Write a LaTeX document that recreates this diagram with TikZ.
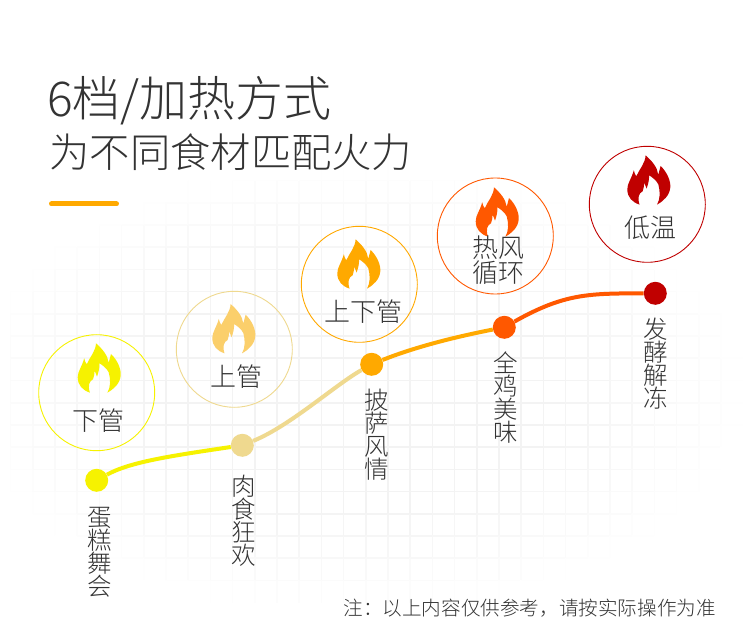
\documentclass[tikz,border=0pt]{standalone}
\usepackage{fontspec}
\newfontfamily\cjk{Noto Sans CJK SC Light}
\definecolor{cYel}{HTML}{F6F200}
\definecolor{cTan}{HTML}{EFD98F}
\definecolor{cTanF}{HTML}{FBCF6B}
\definecolor{cOra}{HTML}{FFA900}
\definecolor{cRed}{HTML}{FF5800}
\definecolor{cDark}{HTML}{C00000}
\definecolor{cTxt}{HTML}{333333}
\tikzset{
  ring/.style={circle,draw=#1,line width=0.9pt,minimum size=116pt,inner sep=0pt},
  dot/.style={circle,fill=#1,minimum size=23pt,inner sep=0pt},
  link/.style={draw=#1,line width=4pt},
  lab/.style={align=center,inner sep=0pt,text=cTxt,font=\cjk\fontsize{24.5}{23}\selectfont},
  lab1/.style={align=center,inner sep=0pt,text=cTxt,font=\cjk\fontsize{26}{25}\selectfont},
  flame/.pic={
    \fill[pic actions] (18.3,0) .. controls (25,6) and (30,12) .. (31,19.5) -- (33.3,10.7)
      .. controls (40,17) and (43.5,26) .. (43,32) .. controls (42.5,40) and (36,46) .. (29.7,49.3)
      .. controls (33,44) and (33,36) .. (31,29) .. controls (29,25) and (25,22) .. (21.8,20)
      .. controls (22,25) and (20.5,30) .. (19.3,33.3) -- (16.9,27.3)
      .. controls (16.7,31) and (16.2,34) .. (15.3,36) .. controls (11.5,38) and (10,42) .. (12.2,49.3)
      .. controls (5,47) and (0,42) .. (0,34) .. controls (0,28) and (4,24) .. (6.5,15)
      .. controls (7,17.5) and (8,19.5) .. (9,21) .. controls (12,14) and (18,8) .. (18.3,0) -- cycle;
  }
}
\begin{document}
\begin{tikzpicture}[x=1pt,y=-1pt]
\useasboundingbox (0,0) rectangle (750,628);
\fill[white] (0,0) rectangle (750,628);
% faint background grid, fading outward
\foreach \i in {-1,...,32}{
  \foreach \j in {-6,...,13}{
    \pgfmathsetmacro{\gx}{32.7+22.2*\i}
    \pgfmathsetmacro{\gy}{291.7+22.2*\j}
    \pgfmathsetmacro{\vp}{max(0,min(1,1.35*(1-((\gx-355)/390)^2-((\gy+11.1-390)/225)^2)))*4.6}
    \pgfmathsetmacro{\hp}{max(0,min(1,1.35*(1-((\gx+11.1-355)/390)^2-((\gy-390)/225)^2)))*4.6}
    \ifdim\vp pt>0.1pt \draw[line width=1.6pt,color=black!\vp!white] (\gx,\gy) -- (\gx,\gy+22.2); \fi
    \ifdim\hp pt>0.1pt \draw[line width=1.6pt,color=black!\hp!white] (\gx,\gy) -- (\gx+22.2,\gy); \fi
  }
}
% heading
\node[anchor=west,inner sep=0pt,text=cTxt,font=\cjk\fontsize{48}{48}\selectfont] (title) at (47,101) {6档/加热方式};
\node[anchor=west,inner sep=0pt,text=cTxt,font=\cjk\fontsize{40.3}{40}\selectfont] (subtitle) at (49.3,152) {为不同食材匹配火力};
\draw[cOra,line width=5pt,line cap=round] (51.5,204) -- (116.5,204);
% rings
\node[ring=cYel] (r1) at (96.7,392.7) {};
\node[ring=cTan] (r2) at (234.3,349.3) {};
\node[ring=cOra] (r3) at (359.3,284.3) {};
\node[ring=cRed] (r4) at (495.3,236) {};
\node[ring=cDark] (r5) at (647.3,204.3) {};
% flames
\pic[fill=cYel] at (77.7,343.3) {flame};
\pic[fill=cTanF] at (212.3,304) {flame};
\pic[fill=cOra] at (337.3,239.3) {flame};
\pic[fill=cRed] at (475.7,187.3) {flame};
\pic[fill=cDark] at (627.3,155.3) {flame};
% ring labels
\node[lab1] (t1) at (98.8,420.8) {下管};
\node[lab1] (t2) at (236.5,376.7) {上管};
\node[lab1] (t3) at (363.3,311.7) {上下管};
\node[lab1] (t4) at (498.2,259.7) {热风\\循环};
\node[lab1] (t5) at (650.3,228) {低温};
% dots
\node[dot=cYel] (d1) at (96.7,480.3) {};
\node[dot=cTan] (d2) at (242.3,445.3) {};
\node[dot=cOra] (d3) at (371.7,364.3) {};
\node[dot=cRed] (d4) at (504.3,327.3) {};
\node[dot=cDark] (d5) at (655.3,293.3) {};
% connectors
\path[link=cYel] (d1) .. controls (130,462) and (170,456) .. (d2);
\path[link=cTan] (d2) .. controls (290,426) and (335,385) .. (d3);
\path[link=cOra] (d3) .. controls (420,345) and (465,335) .. (d4);
\path[link=cRed] (d4) .. controls (565,293) and (590,293.5) .. (d5);
% vertical labels
\node[lab] (v1) at (99.3,552.5) {蛋\\糕\\舞\\会};
\node[lab] (v2) at (244,521.2) {肉\\食\\狂\\欢};
\node[lab] (v3) at (377,434.2) {披\\萨\\风\\情};
\node[lab] (v4) at (506,398) {全\\鸡\\美\\味};
\node[lab] (v5) at (656,364) {发\\酵\\解\\冻};
% note
\node[anchor=east,inner sep=0pt,text=cTxt,font=\cjk\fontsize{19.6}{20}\selectfont] (note) at (716,608) {注：以上内容仅供参考，请按实际操作为准};
\end{tikzpicture}
\end{document}
